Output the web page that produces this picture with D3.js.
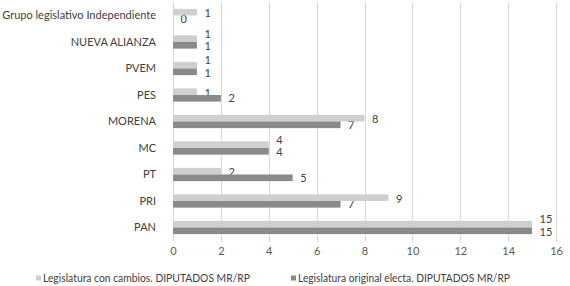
<!DOCTYPE html>
<html>
<head>
	<meta charset="utf-8">
	<title>Diputados por grupo legislativo</title>
	<style>
	body { margin: 0; background: #fff; }
	text { font-family: Lato, "Open Sans", sans-serif; }
	</style>
	<script src="https://cdn.jsdelivr.net/npm/d3@7"></script>
</head>
<body>
	<svg width="570" height="286"></svg>
	<script>

	var categorias = ["Grupo legislativo Independiente", "NUEVA ALIANZA", "PVEM", "PES", "MORENA", "MC", "PT", "PRI", "PAN"];
	var conCambios = [1, 1, 1, 1, 8, 4, 2, 9, 15];
	var original = [0, 1, 1, 2, 7, 4, 5, 7, 15];
	var ticksX = [0, 2, 4, 6, 8, 10, 12, 14, 16];
	var series = ["Legislatura con cambios. DIPUTADOS MR/RP", "Legislatura original electa. DIPUTADOS MR/RP"];
	var colores = ["#cfcfcf", "#8a8a8a"];

	var svg = d3.select("svg");

	var x = d3.scaleLinear().domain([0, 16]).range([173, 556]);
	var y = d3.scaleBand().domain(categorias).range([2.25, 240.75]).paddingInner(0.5).paddingOuter(0.25);
	var bh = y.bandwidth() / 2;

	// gridlines
	svg.append("g")
		.selectAll("line")
		.data(ticksX)
		.enter().append("line")
			.attr("x1", function(d) { return Math.round(x(d)) + 0.5; })
			.attr("x2", function(d) { return Math.round(x(d)) + 0.5; })
			.attr("y1", 2)
			.attr("y2", 242)
			.attr("stroke", "#d9d9d9")
			.attr("stroke-width", 1);

	var axisX = svg.append("g")
		.attr("transform", "translate(0,242)")
		.call(d3.axisBottom(x).tickValues(ticksX).tickSize(0).tickPadding(5));
	axisX.select(".domain").remove();
	axisX.selectAll("text")
		.attr("fill", "#595959")
		.style("font-size", "11px");

	var axisY = svg.append("g")
		.attr("transform", "translate(156,0)")
		.call(d3.axisLeft(y).tickSize(0).tickPadding(0));
	axisY.select(".domain").remove();
	axisY.selectAll("text")
		.attr("fill", "#404040")
		.style("font-size", "11px");

	var filas = categorias.map(function(c, i) {
		return {cat: c, a: conCambios[i], b: original[i]};
	});

	// etiquetas (quedan debajo de las barras)
	var etiquetas = svg.append("g")
		.attr("fill", "#404040")
		.style("font-size", "11px");

	etiquetas.selectAll("text.a")
		.data(filas)
		.enter().append("text")
			.attr("class", "a")
			.attr("x", function(d) { return x(d.a) + 7.5; })
			.attr("y", function(d) {
				// si coincide con la otra etiqueta, subirla un poco
				return y(d.cat) + bh / 2 + (d.a == d.b ? -5 : 1);
			})
			.attr("dy", "0.35em")
			.text(function(d) { return d.a; });

	etiquetas.selectAll("text.b")
		.data(filas)
		.enter().append("text")
			.attr("class", "b")
			.attr("x", function(d) { return x(d.b) + 7.5; })
			.attr("y", function(d) { return y(d.cat) + bh * 1.5 + (d.a == d.b ? 1 : 0); })
			.attr("dy", "0.35em")
			.text(function(d) { return d.b; });

	svg.append("g")
		.selectAll("rect")
		.data(filas)
		.enter().append("rect")
			.attr("x", x(0))
			.attr("y", function(d) { return y(d.cat); })
			.attr("width", function(d) { return x(d.a) - x(0); })
			.attr("height", bh)
			.attr("fill", colores[0]);

	svg.append("g")
		.selectAll("rect")
		.data(filas)
		.enter().append("rect")
			.attr("x", x(0))
			.attr("y", function(d) { return y(d.cat) + bh; })
			.attr("width", function(d) { return x(d.b) - x(0); })
			.attr("height", bh)
			.attr("fill", colores[1]);

	// leyenda
	var legendX = [36, 291];
	var legendW = [207, 212];
	var legend = svg.append("g")
		.selectAll("g")
		.data(series)
		.enter().append("g")
			.attr("transform", function(d, i) { return "translate(" + legendX[i] + ",278)"; });

	legend.append("rect")
		.attr("x", 0)
		.attr("y", -2.5)
		.attr("width", 5)
		.attr("height", 5)
		.attr("fill", function(d, i) { return colores[i]; });

	legend.append("text")
		.attr("x", 7)
		.attr("dy", "0.35em")
		.attr("fill", "#404040")
		.style("font-size", "11.5px")
		.attr("textLength", function(d, i) { return legendW[i]; })
		.attr("lengthAdjust", "spacingAndGlyphs")
		.text(function(d) { return d; });

	</script>
</body>
</html>
